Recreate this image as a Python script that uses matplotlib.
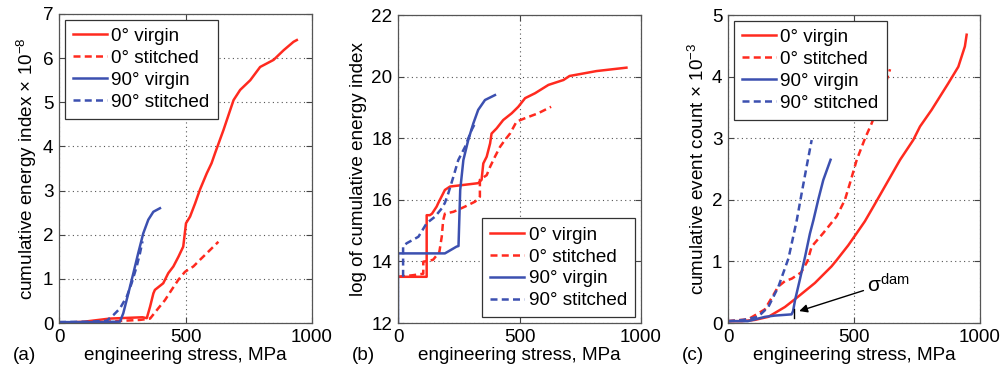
import matplotlib

matplotlib.use("Agg")
import matplotlib.pyplot as plt

plt.rcParams["font.family"] = ["Liberation Sans", "DejaVu Sans"]
plt.rcParams["mathtext.fontset"] = "custom"
plt.rcParams["mathtext.rm"] = "Liberation Sans"
plt.rcParams["mathtext.it"] = "Liberation Sans:italic"
plt.rcParams["mathtext.default"] = "regular"

RED = "#ff2a1f"
BLUE = "#3c50b0"
LABELS = ["0° virgin", "0° stitched", "90° virgin", "90° stitched"]
FS = 13.6

# (a) cumulative energy index x 1e-8
a_v0_x = [0, 100, 200, 330, 347, 360, 373, 379, 412, 432, 452, 472, 491, 502, 518, 538, 557, 584, 603, 617, 636,
          650, 677, 690, 716, 756, 795, 848, 888, 927, 940]
a_v0_y = [0, 0.03, 0.1, 0.13, 0.11, 0.37, 0.67, 0.75, 0.9, 1.13, 1.28, 1.5, 1.73, 2.26, 2.41, 2.71, 3.02, 3.39, 3.62,
          3.85, 4.15, 4.37, 4.83, 5.05, 5.28, 5.5, 5.8, 5.96, 6.18, 6.37, 6.41]
a_s0_x = [0, 150, 250, 320, 360, 392, 419, 445, 472, 498, 531, 557, 584, 630]
a_s0_y = [0, 0.02, 0.05, 0.07, 0.1, 0.33, 0.52, 0.75, 0.98, 1.16, 1.28, 1.43, 1.58, 1.84]
a_v90_x = [0, 150, 241, 254, 274, 294, 313, 333, 353, 373, 399]
a_v90_y = [0.02, 0.02, 0.03, 0.22, 0.67, 1.13, 1.58, 2.03, 2.34, 2.52, 2.6]
a_s90_x = [0, 120, 188, 215, 241, 268, 287, 307, 320, 330]
a_s90_y = [0.02, 0.03, 0.05, 0.18, 0.33, 0.6, 0.9, 1.28, 1.58, 1.85]

# (b) log of cumulative energy index
b_v0_x = [0, 118, 118, 131, 140, 159, 166, 186, 193, 214, 330, 344, 351, 365, 379, 385, 406, 433, 468, 495, 523,
          564, 619, 681, 706, 817, 940]
b_v0_y = [13.5, 13.5, 15.5, 15.5, 15.55, 15.78, 15.9, 16.21, 16.32, 16.43, 16.54, 16.65, 17.18, 17.4, 17.83, 18.15,
          18.32, 18.59, 18.81, 19.02, 19.3, 19.46, 19.73, 19.89, 20.02, 20.18, 20.29]
b_s0_x = [0, 60, 104, 104, 144, 170, 180, 186, 193, 228, 276, 317, 337, 337, 365, 379, 399, 420, 440, 461, 488, 523,
          577, 630]
b_s0_y = [13.5, 13.55, 13.6, 13.99, 14.05, 14.3, 14.8, 15.34, 15.55, 15.61, 15.78, 15.94, 16.1, 16.65, 16.8, 17.07,
          17.4, 17.72, 17.94, 18.15, 18.54, 18.65, 18.81, 19.02]
b_v90_x = [0, 0, 193, 241, 249, 256, 269, 289, 310, 330, 358, 399]
b_v90_y = [12, 14.26, 14.26, 14.48, 14.5, 16.32, 17.29, 17.94, 18.48, 18.92, 19.24, 19.4]
b_s90_x = [21, 21, 36, 84, 118, 152, 180, 193, 207, 228, 248, 276, 303, 317]
b_s90_y = [13.5, 14.5, 14.59, 14.8, 15.24, 15.45, 15.72, 15.9, 16.21, 16.75, 17.29, 17.72, 18.27, 18.48]

# (c) cumulative event count x 1e-3
c_v0_x = [0, 54, 106, 160, 226, 279, 345, 411, 431, 477, 511, 543, 577, 630, 683, 735, 762, 808, 874, 914, 940, 947]
c_v0_y = [0.03, 0.03, 0.05, 0.1, 0.26, 0.43, 0.65, 0.92, 1.02, 1.26, 1.46, 1.65, 1.89, 2.27, 2.65, 2.97, 3.19, 3.46,
          3.89, 4.16, 4.49, 4.68]
c_s0_x = [0, 80, 146, 185, 199, 226, 253, 290, 315, 332, 378, 431, 464, 484, 511, 544, 570, 605, 643]
c_s0_y = [0.03, 0.06, 0.22, 0.49, 0.59, 0.68, 0.72, 0.82, 1.0, 1.24, 1.46, 1.73, 2.0, 2.27, 2.65, 3.0, 3.24, 3.62,
          4.12]
c_v90_x = [0, 79, 147, 185, 252, 258, 266, 286, 306, 325, 339, 358, 378, 407]
c_v90_y = [0.03, 0.03, 0.1, 0.12, 0.14, 0.19, 0.37, 0.72, 1.08, 1.45, 1.67, 2.0, 2.32, 2.65]
c_s90_x = [0, 60, 119, 160, 200, 240, 273, 292, 312, 332]
c_s90_y = [0.03, 0.05, 0.1, 0.26, 0.59, 1.05, 1.67, 2.1, 2.54, 2.97]

panels = [
    ("(a)", "cumulative energy index $\\times$ 10$^{-8}$", (0, 7), range(0, 8), "upper left",
     [(a_v0_x, a_v0_y), (a_s0_x, a_s0_y), (a_v90_x, a_v90_y), (a_s90_x, a_s90_y)]),
    ("(b)", "log of cumulative energy index", (12, 22), range(12, 23, 2), "lower right",
     [(b_v0_x, b_v0_y), (b_s0_x, b_s0_y), (b_v90_x, b_v90_y), (b_s90_x, b_s90_y)]),
    ("(c)", "cumulative event count $\\times$ 10$^{-3}$", (0, 5), range(0, 6), "upper left",
     [(c_v0_x, c_v0_y), (c_s0_x, c_s0_y), (c_v90_x, c_v90_y), (c_s90_x, c_s90_y)]),
]
lefts = [59, 398, 728]
widths = [253, 243, 252]
tops = [14, 15, 15]

W, H = 1005, 376
fig = plt.figure(figsize=(W / 100, H / 100), dpi=100)
styles = [(RED, "-"), (RED, (0, (2.8, 1.7))), (BLUE, "-"), (BLUE, (0, (2.8, 1.7)))]

for i, (tag, ylab, ylim, yticks, loc, series) in enumerate(panels):
    ax = fig.add_axes([lefts[i] / W, (H - 323) / H, widths[i] / W, (323 - tops[i]) / H])
    for (x, y), (col, ls), lab in zip(series, styles, LABELS):
        ax.plot(x, y, color=col, linestyle=ls, lw=1.8, label=lab)
    ax.set_xlim(0, 1000)
    ax.set_ylim(*ylim)
    ax.set_xticks([0, 500, 1000])
    ax.set_yticks(list(yticks))
    ax.grid(True, linestyle=(0, (1, 3)), color="#555555", lw=0.8)
    ax.tick_params(direction="in", top=True, right=True, labelsize=FS, length=4, color="#444444", pad=4)
    for s in ax.spines.values():
        s.set_color("#555555")
        s.set_linewidth(0.9)
    ax.set_xlabel("engineering stress, MPa", fontsize=FS, labelpad=1)
    ax.set_ylabel(ylab, fontsize=FS, labelpad=3)
    leg = ax.legend(loc=loc, fontsize=FS, handlelength=1.8, handletextpad=0.25, labelspacing=0.25,
                    borderpad=0.42, borderaxespad=0.3, fancybox=False, framealpha=1, edgecolor="#333333")
    leg.get_frame().set_linewidth(0.9)
    fig.text((lefts[i] - 46) / W, (H - 355) / H, tag, fontsize=FS, va="center", ha="left")
    if tag == "(c)":
        ax.annotate("", xy=(272, 0.18), xytext=(548, 0.54),
                    arrowprops=dict(arrowstyle="-|>", color="black", lw=1.0, mutation_scale=12))
        ax.plot([262, 262], [0.08, 0.23], color="black", lw=1.0)
        ax.text(552, 0.5, "$\\sigma^{dam}$", fontsize=15, ha="left", va="baseline")

fig.savefig("out.png", dpi=100)
